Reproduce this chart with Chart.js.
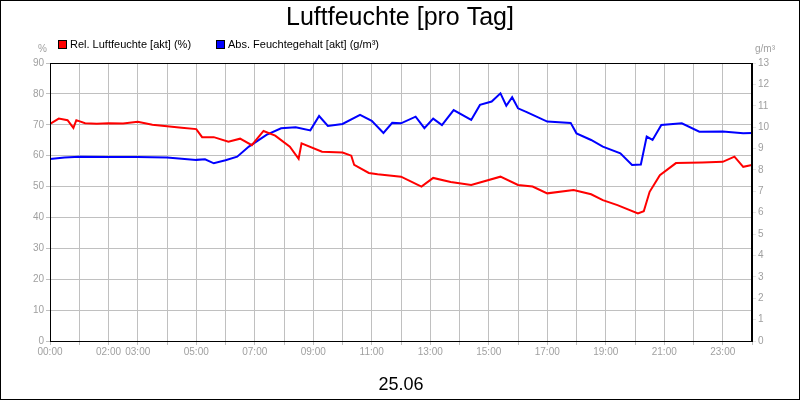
<!DOCTYPE html>
<html>
<head>
<meta charset="utf-8">
<script src="https://cdn.jsdelivr.net/npm/chart.js@4"></script>
<style>
  body { margin: 0; background: #fff; }
  #wrap { width: 800px; height: 400px; }
</style>
</head>
<body>
<div id="wrap"><canvas id="humChart"></canvas></div>
<script>
// Luftfeuchte 25.06 - hours of day
const relHours = [0, 0.3, 0.6, 0.8, 0.9, 1.2, 1.6, 2, 2.5, 3, 3.5, 4, 4.5, 5, 5.2, 5.6, 6.1, 6.5, 6.9, 7.3, 7.7, 8.2, 8.5, 8.6, 9.3, 10, 10.3, 10.4, 10.9, 11.2, 12, 12.7, 13.1, 13.7, 14.4, 15.4, 16, 16.5, 17, 17.9, 18.5, 18.9, 19.4, 20.1, 20.3, 20.5, 20.85, 21.4, 22.3, 23, 23.4, 23.7, 24];
const relHum = [70.3, 72, 71.5, 69, 71.5, 70.5, 70.3, 70.5, 70.4, 71, 70, 69.5, 69, 68.6, 66, 66, 64.5, 65.5, 63.4, 68, 66.5, 62.9, 59, 64, 61.3, 61, 60, 57, 54.4, 54, 53.2, 50, 52.8, 51.5, 50.5, 53.2, 50.5, 50, 47.8, 48.9, 47.5, 45.6, 44, 41.3, 42, 48.3, 53.7, 57.6, 57.8, 58, 59.7, 56.4, 57];

const absHours = [0, 0.5, 1, 2, 3, 4, 5, 5.3, 5.6, 6, 6.4, 6.8, 7.4, 7.9, 8.4, 8.9, 9.2, 9.5, 10, 10.6, 11, 11.4, 11.7, 12, 12.5, 12.8, 13.1, 13.4, 13.8, 14.4, 14.7, 15.1, 15.4, 15.6, 15.8, 16, 16.3, 17, 17.8, 18, 18.5, 18.9, 19.5, 19.9, 20.2, 20.4, 20.6, 20.9, 21.6, 22.2, 23, 23.7, 24];
const absHum = [8.51, 8.58, 8.62, 8.6, 8.6, 8.58, 8.47, 8.5, 8.31, 8.45, 8.62, 9.09, 9.64, 9.95, 10.0, 9.85, 10.52, 10.06, 10.15, 10.57, 10.3, 9.73, 10.2, 10.18, 10.49, 9.95, 10.4, 10.1, 10.8, 10.34, 11.04, 11.2, 11.58, 11.0, 11.4, 10.88, 10.7, 10.26, 10.2, 9.71, 9.4, 9.09, 8.78, 8.23, 8.25, 9.56, 9.4, 10.1, 10.18, 9.79, 9.8, 9.71, 9.73];

const hourLabels = [0, 2, 3, 5, 7, 9, 11, 13, 15, 17, 19, 21, 23];

const toPts = (xs, ys) => xs.map((x, i) => ({ x: x, y: ys[i] }));
const font = 'Arial, "Liberation Sans", sans-serif';

// frame, title, legend, units
const decor = {
  id: 'decor',
  afterDraw(chart) {
    const c = chart.ctx, a = chart.chartArea;
    c.save();
    c.strokeStyle = '#000'; c.lineWidth = 1;
    c.strokeRect(0.5, 0.5, 799, 399);
    c.strokeRect(a.left + 0.5, a.top + 0.5, a.right - a.left - 1, a.bottom - a.top);
    c.fillStyle = '#000';
    c.font = '25px ' + font;
    c.textAlign = 'center'; c.textBaseline = 'middle';
    c.fillText('Luftfeuchte [pro Tag]', 400, 18);
    c.font = '11px ' + font;
    c.textAlign = 'left';
    [['#ff0000', 'Rel. Luftfeuchte [akt] (%)', 58], ['#0000ff', 'Abs. Feuchtegehalt [akt] (g/m³)', 216]].forEach(([col, txt, x]) => {
      c.fillStyle = col; c.fillRect(x, 40, 8, 8);
      c.strokeStyle = '#000'; c.strokeRect(x + 0.5, 40.5, 8, 8);
      c.fillStyle = '#000'; c.fillText(txt, x + 12, 45);
    });
    c.fillStyle = '#a0a0a0';
    c.font = '10px ' + font;
    c.fillText('%', 38, 49);
    c.textAlign = 'right';
    c.fillText('g/m³', 775, 49);
    c.restore();
  }
};

new Chart(document.getElementById('humChart'), {
  type: 'line',
  data: {
    datasets: [{
      label: 'Rel. Luftfeuchte [akt] (%)',
      data: toPts(relHours, relHum),
      borderColor: '#ff0000',
      borderWidth: 2,
      pointRadius: 0,
      yAxisID: 'y'
    }, {
      label: 'Abs. Feuchtegehalt [akt] (g/m³)',
      data: toPts(absHours, absHum),
      borderColor: '#0000ff',
      borderWidth: 2,
      pointRadius: 0,
      yAxisID: 'y2'
    }]
  },
  options: {
    responsive: true,
    maintainAspectRatio: false,
    animation: false,
    layout: { padding: { top: 63, left: 0, right: 0, bottom: 0 } },
    plugins: { legend: { display: false }, tooltip: { enabled: false } },
    scales: {
      x: {
        type: 'linear', min: 0, max: 24,
        grid: { color: '#c0c0c0', tickLength: 4 },
        border: { color: '#000' },
        ticks: {
          stepSize: 1, autoSkip: false, maxRotation: 0, color: '#a0a0a0',
          font: { family: font, size: 10 }, padding: 1,
          callback: v => hourLabels.includes(v) ? String(v).padStart(2, '0') + ':00' : ''
        },
        title: { display: true, text: '25.06', color: '#000', font: { family: font, size: 18 }, padding: { top: 0 } },
        afterFit: s => { s.height = 59; }
      },
      y: {
        position: 'left', min: 0, max: 90,
        grid: { color: '#c0c0c0', tickLength: 4 },
        border: { color: '#000' },
        ticks: { stepSize: 10, color: '#a0a0a0', font: { family: font, size: 10 }, padding: 2 },
        afterFit: s => { s.width = 50; }
      },
      y2: {
        position: 'right', min: 0, max: 13,
        grid: { drawOnChartArea: false, tickLength: 4 },
        border: { color: '#000' },
        ticks: { stepSize: 1, color: '#a0a0a0', font: { family: font, size: 10 }, padding: 2 },
        afterFit: s => { s.width = 48; }
      }
    }
  },
  plugins: [decor]
});
</script>
</body>
</html>
